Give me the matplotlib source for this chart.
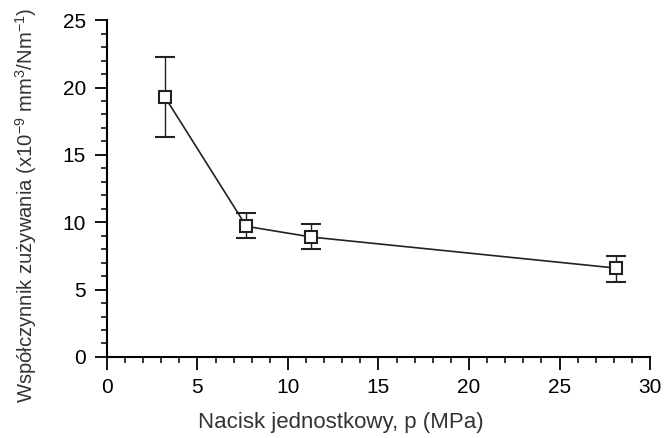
import matplotlib.pyplot as plt
from matplotlib.ticker import MultipleLocator

plt.rcParams['font.family'] = ['Liberation Sans', 'DejaVu Sans']
plt.rcParams['mathtext.fontset'] = 'custom'
plt.rcParams['mathtext.rm'] = 'Liberation Sans'

pressure = [3.2, 7.7, 11.3, 28.1]
wear_rate = [19.3, 9.7, 8.9, 6.6]
err_low = [3.0, 0.9, 0.9, 1.0]
err_high = [3.0, 1.0, 1.0, 0.9]

fig = plt.figure(figsize=(6.64, 4.38), dpi=100)
ax = fig.add_axes([0.161, 0.185, 0.818, 0.769])

ax.errorbar(pressure, wear_rate, yerr=[err_low, err_high], color='#222222',
            marker='s', markersize=8, markerfacecolor='white', markeredgewidth=1.5,
            linewidth=1.2, elinewidth=1.0, capsize=7, capthick=1.0)

ax.set_xlim(0, 30)
ax.set_ylim(0, 25)
ax.xaxis.set_major_locator(MultipleLocator(5))
ax.xaxis.set_minor_locator(MultipleLocator(1))
ax.yaxis.set_major_locator(MultipleLocator(5))
ax.yaxis.set_minor_locator(MultipleLocator(1))

for side in ('top', 'right'):
    ax.spines[side].set_visible(False)
for side in ('left', 'bottom'):
    ax.spines[side].set_linewidth(1.5)

ax.tick_params(which='major', direction='out', length=9, width=1.3, labelsize=15, pad=6)
ax.tick_params(which='minor', direction='out', length=4.5, width=1.1)

ax.set_xlabel('Nacisk jednostkowy, p (MPa)', fontsize=16, color='#333333', va='center')
ax.xaxis.set_label_coords(0.43, -0.196)
ax.set_ylabel('Współczynnik zużywania (x10$^{-9}$ mm$^{3}$/Nm$^{-1}$)', fontsize=14.6,
              color='#333333', va='center')
ax.yaxis.set_label_coords(-0.148, 0.45)

fig.savefig('out.png', dpi=100)
